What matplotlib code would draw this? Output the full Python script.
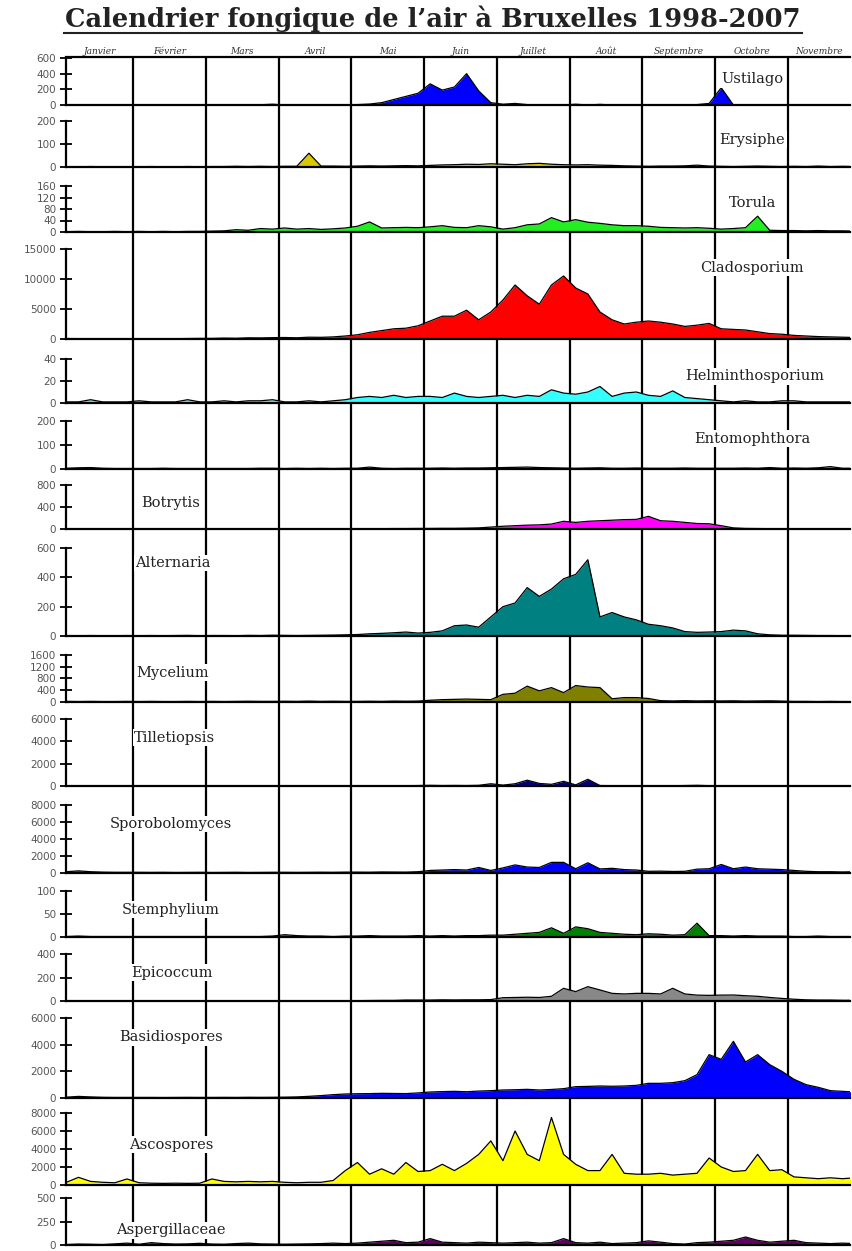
"""Calendrier fongique de l'air à Bruxelles 1998-2007 — 16 panneaux empilés."""
import matplotlib.pyplot as plt
import numpy as np
from matplotlib.lines import Line2D
from matplotlib.transforms import blended_transform_factory

TITLE = "Calendrier fongique de l\u2019air à Bruxelles 1998-2007"
MONTHS = ["Janvier", "Février", "Mars", "Avril", "Mai", "Juin", "Juillet",
          "Août", "Septembre", "Octobre", "Novembre"]

# valeurs par pentade (6 par mois, janvier -> novembre)
ustilago = [0, 0, 0, 0, 0, 0, 0, 0, 0, 0, 0, 0, 0, 0, 0, 0, 3, 10,
            0, 0, 0, 2, 0, 3, 5, 12, 30, 70, 110, 150, 270, 190, 230, 400, 180, 30,
            10, 20, 5, 3, 0, 0, 10, 0, 8, 0, 0, 0, 0, 0, 0, 0, 5, 20,
            220, 0, 0, 0, 0, 0, 0, 0, 0, 0, 0, 0]
erysiphe = [1, 1, 2, 1, 1, 1, 1, 2, 1, 1, 2, 1, 2, 2, 3, 2, 3, 2,
            3, 3, 60, 4, 4, 3, 4, 5, 4, 5, 6, 5, 7, 9, 10, 12, 11, 14,
            12, 10, 14, 16, 12, 10, 9, 10, 8, 7, 5, 4, 3, 4, 4, 5, 8, 4,
            3, 2, 3, 4, 3, 2, 3, 2, 4, 2, 3, 2]
torula = [1, 2, 1, 1, 2, 1, 2, 1, 2, 1, 2, 2, 3, 4, 8, 6, 12, 10,
          14, 10, 12, 9, 11, 14, 20, 35, 14, 15, 16, 15, 18, 22, 16, 15, 22, 18,
          10, 15, 25, 28, 50, 35, 43, 34, 30, 25, 22, 22, 20, 16, 15, 14, 15, 13,
          10, 12, 15, 55, 6, 5, 5, 4, 5, 4, 4, 3]
cladosporium = [80, 60, 40, 50, 60, 40, 50, 40, 60, 50, 80, 100, 100, 150, 120, 200, 180, 220,
                250, 200, 300, 280, 350, 500, 700, 1100, 1400, 1700, 1800, 2200,
                3000, 3800, 3800, 4800, 3200, 4500, 6500, 9000, 7200, 5800, 9000, 10500,
                8500, 7500, 4500, 3200, 2500, 2800, 3000, 2800, 2500, 2100, 2300, 2600,
                1700, 1600, 1500, 1200, 900, 800, 600, 500, 400, 350, 300, 250]
helminthosporium = [1, 1, 3, 1, 1, 1, 2, 1, 1, 1, 3, 1, 1, 2, 1, 2, 2, 3,
                    1, 1, 2, 1, 2, 3, 5, 6, 5, 7, 5, 6, 6, 5, 9, 6, 5, 6,
                    7, 5, 7, 6, 12, 9, 8, 10, 15, 6, 9, 10, 7, 6, 11, 5, 4, 3,
                    2, 1, 2, 1, 1, 2, 2, 1, 1, 1, 1, 1]
entomophthora = [3, 5, 6, 3, 2, 2, 2, 2, 3, 2, 2, 2, 2, 2, 2, 2, 3, 3,
                 2, 3, 2, 3, 2, 3, 3, 8, 3, 2, 3, 3, 3, 4, 3, 4, 4, 5,
                 6, 7, 8, 6, 5, 4, 3, 4, 5, 3, 3, 4, 3, 3, 3, 4, 3, 3,
                 3, 3, 4, 3, 6, 3, 4, 3, 5, 10, 3, 3]
botrytis = [2, 3, 2, 2, 2, 2, 2, 2, 2, 2, 2, 2, 2, 2, 2, 3, 2, 3,
            3, 3, 4, 3, 4, 5, 5, 6, 6, 8, 8, 10, 10, 12, 12, 15, 20, 35,
            50, 60, 70, 75, 90, 140, 120, 140, 150, 160, 170, 175, 230, 150, 140, 120, 100, 95,
            60, 20, 10, 8, 6, 5, 5, 4, 4, 3, 3, 3]
alternaria = [3, 2, 3, 2, 2, 3, 2, 3, 2, 3, 4, 2, 3, 3, 2, 4, 3, 5,
              4, 3, 4, 5, 6, 8, 10, 15, 18, 22, 27, 20, 25, 35, 70, 75, 60, 130,
              200, 225, 330, 270, 320, 390, 420, 520, 130, 160, 130, 110, 80, 70, 55, 30, 25, 27,
              30, 40, 35, 15, 8, 5, 5, 4, 3, 3, 2, 2]
mycelium = [20, 15, 20, 15, 15, 20, 15, 20, 15, 15, 20, 15, 20, 15, 20, 25, 20, 20,
            25, 20, 30, 20, 25, 20, 20, 25, 20, 30, 25, 30, 60, 80, 90, 100, 90, 80,
            260, 300, 540, 380, 490, 320, 560, 510, 490, 110, 150, 150, 120, 45, 35, 45, 35, 40,
            35, 40, 30, 35, 40, 30, 20, 20, 15, 20, 15, 15]
tilletiopsis = [20, 15, 20, 15, 20, 15, 20, 15, 20, 20, 15, 20, 15, 20, 20, 15, 20, 20,
                20, 15, 20, 20, 15, 20, 20, 25, 20, 30, 20, 40, 60, 40, 50, 40, 60, 200,
                80, 200, 520, 230, 150, 420, 100, 600, 40, 30, 30, 30, 25, 30, 25, 40, 60, 30,
                25, 20, 25, 20, 20, 20, 20, 15, 20, 15, 20, 15]
sporobolomyces = [150, 250, 150, 100, 80, 80, 80, 70, 80, 60, 70, 80, 60, 70, 80, 60, 70, 80,
                  80, 70, 80, 90, 80, 100, 100, 90, 120, 110, 100, 150,
                  300, 350, 400, 350, 650, 300, 600, 950, 700, 650, 1250, 1250,
                  500, 1200, 480, 550, 400, 350, 200, 220, 180, 200, 450, 500,
                  1000, 500, 700, 500, 450, 400, 300, 200, 150, 150, 120, 150]
stemphylium = [1, 2, 1, 1, 1, 1, 1, 1, 1, 1, 1, 1, 1, 1, 1, 1, 1, 2,
               5, 3, 2, 2, 1, 2, 2, 3, 2, 2, 2, 3, 2, 3, 2, 3, 3, 4,
               4, 6, 8, 10, 20, 8, 22, 18, 10, 8, 6, 5, 7, 6, 4, 5, 30, 3,
               3, 2, 3, 2, 2, 2, 1, 1, 2, 1, 1, 1]
epicoccum = [1, 1, 2, 1, 1, 1, 1, 1, 1, 1, 1, 1, 1, 1, 1, 1, 1, 1,
             1, 2, 1, 2, 2, 2, 3, 4, 5, 5, 8, 8, 8, 10, 9, 10, 10, 12,
             28, 30, 32, 30, 40, 108, 80, 122, 94, 65, 60, 65, 65, 60, 108, 60, 50, 48,
             50, 51, 45, 40, 30, 22, 15, 10, 8, 8, 6, 6]
basidiospores = [60, 120, 80, 50, 40, 40, 40, 40, 35, 40, 45, 40, 40, 45, 40, 50, 45, 50,
                 60, 80, 125, 180, 250, 300, 320, 330, 350, 340, 330, 380,
                 450, 480, 500, 470, 520, 550, 600, 620, 650, 600, 640, 700,
                 850, 870, 900, 880, 900, 950, 1100, 1100, 1150, 1300, 1750, 3250,
                 2900, 4250, 2700, 3250, 2500, 2000, 1400, 1000, 800, 550, 500, 450]
ascospores = [300, 850, 400, 300, 250, 670, 250, 200, 180, 200, 180, 200, 670, 400, 350, 400, 350, 400,
              300, 250, 300, 300, 500, 1600, 2500, 1200, 1800, 1200, 2500, 1500,
              1600, 2300, 1600, 2400, 3400, 4900, 2700, 6000, 3400, 2700, 7500, 3400,
              2300, 1600, 1600, 3400, 1300, 1200, 1200, 1300, 1100, 1200, 1300, 3000,
              2000, 1500, 1600, 3400, 1600, 1700, 900, 800, 700, 800, 700, 800]
aspergillaceae = [5, 10, 8, 5, 12, 20, 8, 25, 15, 10, 12, 18, 10, 8, 15, 20, 12, 10,
                  8, 10, 12, 15, 20, 15, 20, 30, 40, 50, 25, 30, 68, 30, 25, 20, 30, 25,
                  20, 25, 30, 20, 25, 68, 25, 20, 30, 15, 20, 25, 44, 30, 15, 10, 25, 30,
                  40, 50, 85, 50, 30, 40, 50, 25, 20, 15, 20, 15]

NAMES = ["Ustilago", "Erysiphe", "Torula", "Cladosporium", "Helminthosporium",
         "Entomophthora", "Botrytis", "Alternaria", "Mycelium", "Tilletiopsis",
         "Sporobolomyces", "Stemphylium", "Epicoccum", "Basidiospores",
         "Ascospores", "Aspergillaceae"]
SERIES = [ustilago, erysiphe, torula, cladosporium, helminthosporium, entomophthora,
          botrytis, alternaria, mycelium, tilletiopsis, sporobolomyces, stemphylium,
          epicoccum, basidiospores, ascospores, aspergillaceae]
TICKS = [[0, 200, 400, 600], [0, 100, 200], [0, 40, 80, 120, 160],
         [0, 5000, 10000, 15000], [0, 20, 40], [0, 100, 200], [0, 400, 800],
         [0, 200, 400, 600], [0, 400, 800, 1200, 1600], [0, 2000, 4000, 6000],
         [0, 2000, 4000, 6000, 8000], [0, 50, 100], [0, 200, 400],
         [0, 2000, 4000, 6000], [0, 2000, 4000, 6000, 8000], [0, 250, 500]]
COLORS = ["#0000ff", "#d8c800", "#22ee22", "#ff0000", "#33ffff", "#8a8a8a",
          "#ff00ff", "#008080", "#808000", "#000080", "#0000ff", "#008000",
          "#888888", "#0000ff", "#ffff00", "#600060"]

# mise en page (pixels)
W, H = 852, 1251
X0, X1 = 66, 850
TOP = 57
BASE = [105, 167, 232, 339, 403, 469, 529, 636, 702, 786, 873, 937, 1001, 1098, 1185, 1245]
TICK_TOP = [58, 121, 186, 249, 359, 421, 485, 548, 655, 719, 805, 891, 954, 1018, 1113, 1198]
# position des étiquettes : (mois, fraction de hauteur)
LABEL_POS = [(9.51, 0.55), (9.51, 0.59), (9.51, 0.63), (9.51, 0.79), (9.54, 0.61),
             (9.51, 0.63), (1.52, 0.59), (1.55, 0.83), (1.55, 0.62), (1.57, 0.72),
             (1.52, 0.72), (1.52, 0.59), (1.54, 0.60), (1.52, 0.76), (1.52, 0.56),
             (1.52, 0.31)]

PX_PER_MONTH = 72.7
XMIN = 1 - (133 - X0) / PX_PER_MONTH
XMAX = 10 + (X1 - 788) / PX_PER_MONTH

x = np.arange(len(ustilago)) / 6 + 1 / 12

fig = plt.figure(figsize=(W / 100, H / 100), dpi=100)

axes = []
prev = TOP
for k, (name, vals, ticks, color) in enumerate(zip(NAMES, SERIES, TICKS, COLORS)):
    base, ttop = BASE[k], TICK_TOP[k]
    ax = fig.add_axes([X0 / W, 1 - base / H, (X1 - X0) / W, (base - prev) / H])
    ymax = ticks[-1]
    ax.set_ylim(0, ymax * (base - prev) / (base - ttop))
    ax.set_xlim(XMIN, XMAX)
    ax.fill_between(x, vals, color=color, lw=0, zorder=2)
    ax.plot(x, vals, color="black", lw=0.9, zorder=3)
    for m in range(1, 11):
        ax.axvline(m, color="black", lw=1.6, zorder=1)
    for side in ("right", "top"):
        ax.spines[side].set_visible(k == 0 and side == "top")
    ax.spines["top"].set_linewidth(1.6)
    ax.spines["left"].set_bounds(0, ymax)
    ax.spines["left"].set_linewidth(1.6)
    ax.spines["bottom"].set_linewidth(1.6)
    ax.spines["bottom"].set_zorder(4)
    ax.set_xticks([])
    ax.set_yticks(ticks)
    ax.set_yticklabels([str(t) for t in ticks], fontsize=7.5, color="#555555",
                       family="DejaVu Sans")
    ax.tick_params(axis="y", direction="inout", length=8, width=1.3, pad=3)
    lx, ly = LABEL_POS[k]
    ax.text(lx, ly * ymax, name, ha="center", va="center", fontsize=10.5,
            family="DejaVu Serif", color="#222222", zorder=5,
            bbox=dict(facecolor="white", edgecolor="none", pad=1.0))
    ax.patch.set_alpha(0)
    axes.append(ax)
    prev = base

# noms des mois au-dessus du premier panneau
trans = blended_transform_factory(axes[0].transData, fig.transFigure)
edges = [XMIN] + list(range(1, 11)) + [XMAX]
for i, mname in enumerate(MONTHS):
    axes[0].text((edges[i] + edges[i + 1]) / 2, 1 - 51 / H, mname, transform=trans,
                 ha="center", va="center", fontsize=6.5, style="italic",
                 family="DejaVu Serif", color="#333333")

fig.text(433 / W, 1 - 19 / H, TITLE, ha="center", va="center", fontsize=18.5,
         weight="bold", family="DejaVu Serif", color="#222222")
fig.add_artist(Line2D([64 / W, 802 / W], [1 - 33 / H, 1 - 33 / H],
                      transform=fig.transFigure, color="#222222", lw=1.5))

fig.savefig("out.png", dpi=100)
